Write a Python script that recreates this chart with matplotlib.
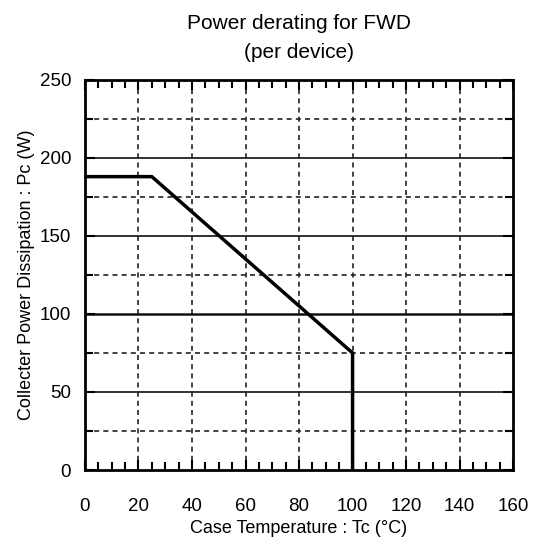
import numpy as np
import matplotlib
matplotlib.use('Agg')
import matplotlib.pyplot as plt

# derating curve points
tc = [0, 25, 100, 100]
pc = [188, 188, 75, 0]

x_ticks = [0, 20, 40, 60, 80, 100, 120, 140, 160]
y_ticks = [0, 50, 100, 150, 200, 250]
y_dash = [25, 75, 125, 175, 225]
y_solid = [50, 150, 200]

plt.rcParams['font.family'] = ['Liberation Sans', 'DejaVu Sans']

fig = plt.figure(figsize=(5.34, 5.51), dpi=100)
ax = fig.add_axes([0.159, 0.147, 0.802, 0.708])

# grid
for x in x_ticks[1:-1]:
    ax.axvline(x, color='#222222', lw=1.2, ls=(0, (3, 2.5)), zorder=1)
for y in y_dash:
    ax.axhline(y, color='#222222', lw=1.2, ls=(0, (3, 2.5)), zorder=1)
for y in y_solid:
    ax.axhline(y, color='#222222', lw=1.3, zorder=1)
ax.axhline(100, color='#111111', lw=1.8, zorder=1)

ax.plot(tc, pc, color='black', lw=2.5, solid_joinstyle='miter', zorder=3)

ax.set_xlim(0, 160)
ax.set_ylim(0, 250)
ax.set_xticks(x_ticks)
ax.set_yticks(y_ticks)
ax.set_xticks(np.arange(0, 161, 5), minor=True)
ax.set_yticks(y_dash, minor=True)
ax.tick_params(which='both', direction='in', top=True, right=True, width=1.5,
               labelsize=13.5)
ax.tick_params(axis='x', which='major', pad=20)
ax.tick_params(axis='y', which='major', pad=10)
ax.tick_params(which='major', length=7)
ax.tick_params(which='minor', length=5.5)
for s in ax.spines.values():
    s.set_linewidth(2)

ax.set_xlabel('Case Temperature : Tc (°C)', fontsize=13, labelpad=4)
ax.set_ylabel('Collecter Power Dissipation : Pc (W)', fontsize=13, labelpad=3)
ax.set_title('Power derating for FWD\n(per device)', fontsize=15, pad=16,
             linespacing=1.65)

fig.savefig('out.png', dpi=100)
